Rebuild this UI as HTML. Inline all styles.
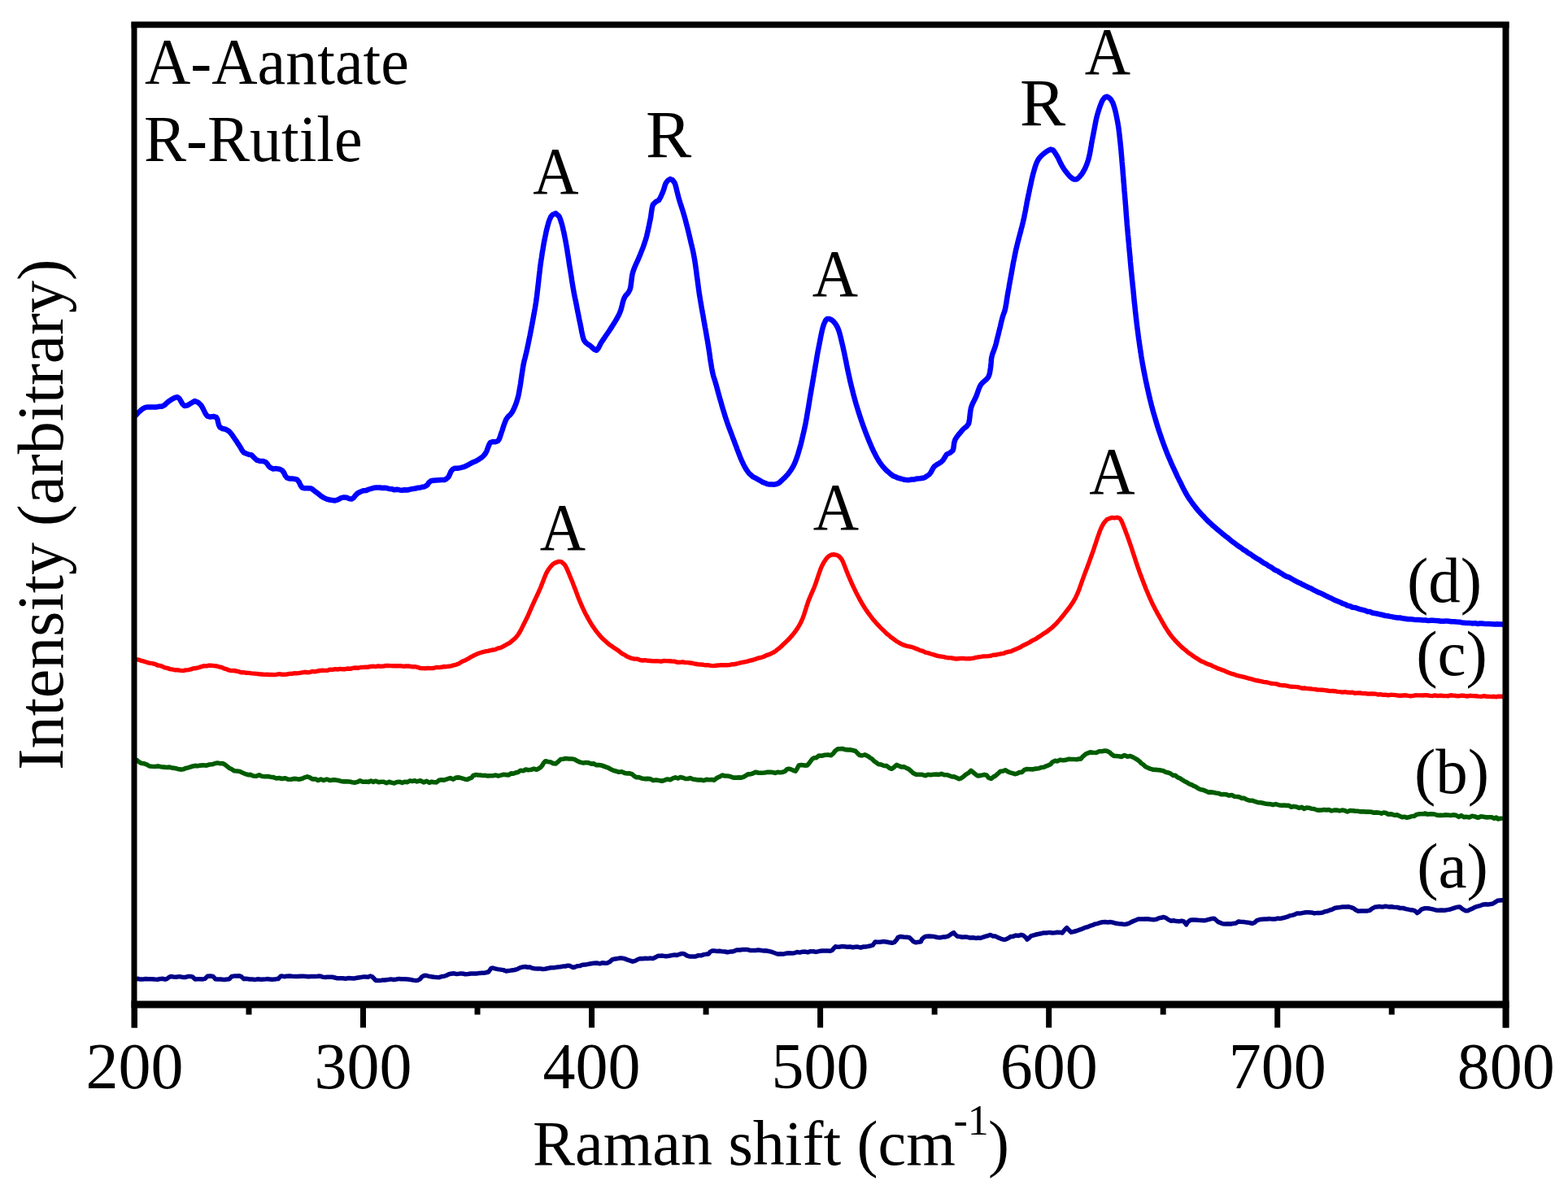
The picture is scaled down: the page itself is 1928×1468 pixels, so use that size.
<!DOCTYPE html>
<html><head><meta charset="utf-8"><title>Raman spectra</title>
<style>html,body{margin:0;padding:0;background:#fff;overflow:hidden}svg{display:block}</style>
</head><body>
<svg width="1928" height="1468" viewBox="0 0 1928 1468"><rect x="0" y="0" width="1928" height="1468" fill="#fff"/>
<polyline points="168.0,1203.7 169.9,1203.3 172.4,1204.1 175.4,1204.1 178.9,1203.5 182.5,1203.8 186.3,1203.8 190.1,1204.1 193.8,1204.2 197.3,1203.4 200.4,1203.3 203.0,1204.2 205.0,1203.6 208.0,1201.4 210.2,1200.5 213.2,1200.9 216.7,1201.2 220.5,1200.6 224.5,1201.4 228.3,1201.4 231.8,1200.4 234.8,1200.5 237.0,1201.2 240.0,1204.1 242.6,1203.8 246.0,1203.7 249.4,1203.9 252.0,1203.4 255.0,1200.3 258.5,1200.0 262.0,1200.5 265.0,1203.8 267.7,1204.0 271.5,1204.1 275.5,1204.4 279.3,1204.1 282.0,1203.7 285.0,1200.5 287.6,1200.1 291.0,1200.1 294.4,1199.8 297.0,1200.9 300.0,1203.7 301.9,1203.2 304.3,1203.5 307.1,1204.0 310.3,1204.1 313.7,1204.4 317.3,1203.8 321.0,1204.3 324.7,1204.1 328.3,1203.6 331.7,1203.9 334.9,1204.2 337.7,1204.1 340.1,1203.6 342.0,1203.6 345.0,1200.2 347.0,1200.1 349.4,1200.7 352.3,1200.2 355.5,1199.9 359.0,1200.3 362.6,1200.5 366.2,1200.5 369.8,1200.2 373.3,1200.3 376.5,1200.4 379.5,1200.8 382.0,1200.5 386.0,1200.4 389.0,1200.6 391.6,1200.1 394.0,1200.2 396.6,1201.1 400.0,1201.6 402.7,1201.3 405.5,1201.3 408.5,1201.3 411.7,1202.0 414.9,1202.8 418.2,1202.8 421.5,1202.8 424.8,1203.3 428.0,1202.6 431.4,1202.8 435.0,1203.1 438.7,1202.3 442.4,1201.7 446.1,1201.1 449.5,1201.1 452.7,1201.2 455.4,1200.0 457.6,1200.8 459.8,1203.0 462.2,1205.5 464.3,1205.6 466.9,1205.6 470.0,1205.1 473.3,1205.0 476.8,1204.6 480.4,1203.9 484.0,1204.5 487.4,1204.0 490.6,1203.4 493.4,1203.7 497.5,1203.8 501.4,1204.1 505.0,1204.5 508.2,1205.1 511.1,1205.5 513.6,1205.3 516.7,1203.6 518.5,1201.1 521.4,1199.5 523.9,1199.3 526.9,1200.1 530.2,1200.8 533.6,1201.3 536.9,1201.6 540.0,1201.7 543.2,1200.6 546.1,1200.3 548.9,1199.2 552.0,1197.7 555.6,1197.0 558.5,1196.8 561.7,1197.6 565.1,1197.1 568.6,1197.0 572.1,1197.7 575.6,1197.4 578.9,1197.0 582.3,1196.9 585.8,1197.1 589.3,1196.4 592.7,1196.2 595.9,1196.2 598.6,1195.5 600.7,1195.0 603.8,1190.5 605.9,1190.1 608.7,1190.9 611.9,1191.6 615.4,1192.1 618.9,1192.6 622.4,1194.0 625.6,1193.6 629.1,1192.9 632.5,1192.5 635.9,1191.6 639.2,1189.8 642.5,1188.9 645.8,1188.5 648.8,1189.2 651.5,1189.0 654.2,1190.2 657.1,1190.8 660.4,1191.1 664.5,1190.9 667.2,1191.6 670.3,1191.2 673.8,1190.5 677.5,1189.8 681.2,1189.8 685.0,1189.1 688.7,1188.8 692.1,1188.1 695.2,1188.1 697.9,1187.2 700.0,1187.3 704.7,1189.5 706.9,1189.0 709.7,1187.8 712.8,1187.6 716.2,1186.2 719.8,1186.1 723.3,1185.4 726.5,1184.7 730.1,1184.3 733.8,1183.9 737.5,1184.8 741.0,1183.7 744.1,1184.3 746.7,1184.0 750.3,1182.2 752.3,1180.1 754.5,1179.2 757.8,1178.7 761.5,1178.1 765.3,1178.1 768.4,1178.8 771.6,1180.1 774.9,1181.1 777.8,1182.2 780.9,1181.3 783.7,1179.8 787.1,1178.5 790.0,1178.8 793.3,1178.2 796.8,1178.4 800.1,1178.1 802.7,1178.5 805.3,1177.4 808.9,1175.3 811.5,1175.2 814.8,1175.1 818.6,1175.7 822.6,1175.2 826.4,1174.5 829.7,1174.1 832.3,1174.4 836.3,1173.0 838.5,1172.4 841.3,1172.8 844.5,1174.9 847.8,1176.0 851.3,1175.9 854.9,1176.1 858.7,1174.7 861.9,1174.8 865.3,1173.6 868.6,1173.1 871.2,1173.0 873.1,1170.4 875.8,1169.0 878.1,1168.9 881.1,1169.4 884.5,1169.3 888.0,1169.7 891.4,1170.0 894.5,1170.7 897.6,1170.1 900.2,1170.0 902.8,1169.3 905.9,1167.9 910.0,1168.1 912.6,1167.5 915.5,1167.4 918.7,1167.4 922.1,1168.4 925.6,1168.4 929.1,1168.5 932.5,1168.0 935.7,1168.5 938.6,1168.9 941.2,1168.7 945.2,1169.5 948.2,1170.1 950.7,1171.0 953.4,1172.0 956.7,1173.1 959.6,1172.8 962.9,1173.1 966.3,1172.3 969.8,1171.8 973.4,1172.0 976.8,1171.7 980.0,1170.5 983.5,1171.1 986.8,1170.2 990.0,1170.1 993.2,1170.8 996.5,1169.7 1000.0,1169.7 1003.3,1170.4 1007.0,1169.6 1010.8,1169.1 1014.5,1169.1 1018.0,1169.0 1021.0,1169.2 1023.3,1168.3 1025.0,1166.2 1027.2,1163.8 1029.3,1164.3 1031.9,1164.3 1034.9,1163.6 1038.2,1163.8 1041.7,1164.2 1045.2,1164.0 1048.6,1164.8 1051.7,1164.2 1054.5,1164.1 1058.3,1165.1 1061.9,1164.0 1065.3,1163.9 1068.4,1163.3 1071.0,1162.7 1073.1,1162.1 1076.2,1157.9 1078.6,1158.2 1082.0,1158.3 1085.8,1157.6 1089.8,1158.0 1093.7,1158.8 1097.1,1159.3 1099.6,1158.5 1102.5,1155.4 1104.2,1152.3 1107.3,1151.5 1111.2,1152.0 1115.2,1152.2 1118.3,1152.8 1120.9,1155.2 1122.9,1157.5 1125.9,1158.8 1129.3,1158.3 1132.3,1157.8 1133.6,1154.6 1136.9,1151.8 1139.1,1151.2 1142.0,1151.1 1145.4,1151.3 1149.0,1151.6 1152.6,1152.5 1156.1,1152.8 1159.2,1152.1 1161.8,1152.0 1165.7,1151.1 1168.5,1149.3 1170.7,1147.7 1172.7,1146.6 1174.0,1148.5 1177.4,1151.3 1179.6,1151.4 1182.4,1152.2 1185.6,1151.9 1189.1,1152.1 1192.7,1153.0 1196.4,1152.7 1199.8,1153.4 1202.8,1153.0 1205.4,1153.4 1209.4,1152.0 1212.2,1151.2 1214.6,1150.5 1217.8,1149.4 1220.7,1150.9 1224.0,1151.1 1227.5,1152.9 1231.0,1154.3 1234.0,1155.2 1236.5,1155.1 1239.8,1153.6 1242.7,1151.5 1245.4,1151.4 1248.8,1150.1 1252.4,1150.4 1255.7,1149.3 1258.3,1150.2 1261.3,1152.7 1263.0,1155.1 1264.8,1153.7 1267.6,1150.9 1270.0,1150.2 1272.9,1149.3 1276.3,1148.5 1280.1,1147.8 1283.1,1146.9 1286.7,1147.0 1290.4,1146.4 1294.1,1146.9 1297.4,1146.8 1300.0,1146.2 1304.0,1146.4 1306.2,1147.0 1309.0,1143.4 1311.7,1140.6 1313.9,1143.1 1317.1,1146.2 1320.0,1145.5 1323.7,1144.5 1327.5,1143.1 1331.1,1141.8 1334.2,1140.4 1337.1,1139.8 1340.1,1138.4 1343.6,1137.4 1346.3,1136.1 1349.3,1135.6 1352.4,1134.5 1355.6,1133.8 1358.9,1133.5 1362.2,1133.9 1365.5,1133.6 1369.0,1134.3 1372.4,1135.3 1375.9,1135.7 1379.3,1136.0 1382.5,1136.6 1385.5,1136.0 1388.4,1135.1 1391.1,1133.6 1393.9,1132.4 1396.7,1131.3 1399.6,1130.0 1402.7,1130.0 1405.9,1129.9 1409.2,1129.7 1412.5,1130.1 1415.5,1130.4 1418.3,1130.8 1421.9,1130.2 1425.1,1128.7 1428.0,1128.3 1430.7,1127.5 1433.8,1128.6 1436.5,1130.6 1440.0,1132.3 1442.9,1131.8 1446.4,1132.6 1450.0,1132.8 1453.2,1132.2 1455.6,1132.8 1458.7,1136.9 1460.0,1134.1 1463.4,1131.3 1466.0,1131.1 1469.4,1130.9 1473.2,1131.3 1477.1,1131.5 1480.7,1131.7 1483.6,1131.2 1487.6,1130.1 1490.3,1129.4 1492.9,1129.3 1495.3,1131.1 1497.6,1133.4 1500.7,1134.6 1503.4,1135.7 1506.7,1136.1 1510.1,1135.8 1513.5,1136.0 1516.3,1135.4 1519.7,1135.1 1522.4,1133.1 1525.6,1133.3 1528.9,1133.4 1532.6,1134.1 1536.3,1134.5 1539.6,1135.4 1542.8,1134.2 1545.6,1131.6 1549.0,1130.6 1551.7,1130.3 1554.8,1129.9 1558.0,1130.0 1561.3,1129.6 1564.5,1130.1 1567.7,1130.0 1570.9,1129.1 1574.1,1129.4 1577.1,1128.7 1580.0,1128.0 1583.0,1127.2 1585.7,1125.9 1588.4,1125.4 1591.6,1124.6 1594.8,1123.1 1598.3,1123.1 1602.0,1122.4 1605.6,1121.8 1609.0,1121.8 1612.7,1121.9 1616.1,1122.9 1619.6,1122.4 1623.6,1122.4 1626.2,1122.0 1629.1,1120.7 1632.1,1120.2 1635.1,1119.0 1638.1,1118.1 1641.1,1116.5 1643.9,1115.9 1647.7,1115.5 1651.5,1114.9 1655.1,1115.1 1658.4,1114.8 1661.3,1115.6 1664.6,1116.9 1667.0,1118.8 1670.0,1120.3 1673.4,1120.1 1677.5,1119.9 1681.4,1119.9 1684.6,1119.2 1687.0,1117.2 1690.4,1115.3 1692.9,1114.9 1696.1,1114.5 1699.7,1115.1 1703.6,1114.2 1707.3,1114.9 1710.7,1114.7 1713.6,1115.2 1718.2,1115.5 1721.5,1116.5 1725.2,1116.5 1728.9,1117.6 1733.0,1118.4 1736.8,1118.9 1739.7,1119.8 1742.6,1122.6 1744.8,1121.1 1747.6,1118.2 1751.4,1116.8 1754.4,1116.8 1757.9,1117.1 1761.6,1117.9 1765.4,1118.9 1768.8,1119.2 1772.7,1119.1 1776.4,1119.2 1779.9,1118.6 1783.3,1118.0 1786.5,1116.9 1789.5,1115.9 1792.4,1115.2 1794.9,1115.0 1798.2,1117.6 1802.2,1119.8 1804.5,1119.8 1807.3,1118.3 1810.4,1117.2 1813.5,1115.4 1816.7,1114.4 1819.6,1113.7 1823.1,1112.3 1826.6,1111.7 1830.0,1112.0 1833.1,1111.6 1835.6,1111.0 1839.1,1108.8 1841.4,1107.3 1847.2,1106.7" fill="none" stroke="#000088" stroke-width="5.5" stroke-linejoin="round" stroke-linecap="round"/>
<polyline points="168.3,934.6 170.3,936.4 173.2,938.2 176.7,938.7 180.7,940.1 183.7,942.0 187.0,942.3 190.6,942.5 194.3,941.9 197.9,942.8 201.5,943.1 205.0,943.5 208.4,943.1 211.8,944.1 215.3,944.5 218.7,945.4 222.2,946.1 225.2,945.8 228.1,944.6 231.1,943.9 234.1,943.0 237.1,942.0 240.0,941.4 243.0,941.8 246.6,941.1 250.2,940.7 253.9,941.2 257.4,940.0 260.7,939.8 263.7,938.8 267.5,938.1 270.7,938.7 273.6,938.5 276.2,939.8 279.2,942.1 281.7,944.2 284.5,945.5 287.8,947.7 291.4,948.0 294.9,948.5 298.0,950.0 301.0,951.3 305.2,952.7 308.1,952.4 311.4,954.0 314.9,954.3 318.7,952.9 322.4,954.5 326.0,954.7 329.5,954.6 332.9,955.2 336.3,955.6 339.8,957.0 343.2,956.5 346.7,957.5 350.3,956.7 354.0,958.1 357.8,958.2 361.3,957.4 364.6,957.6 367.5,958.3 371.7,957.2 374.7,955.8 377.8,954.8 380.9,955.9 384.0,957.9 388.2,957.8 391.1,959.5 394.4,958.1 398.0,959.4 401.7,958.0 405.4,959.4 409.0,958.9 412.5,958.9 415.9,959.5 419.3,960.4 422.8,960.9 426.2,960.9 429.7,961.0 433.0,961.7 436.2,962.3 439.5,961.4 442.8,959.9 446.4,961.3 450.5,961.0 453.2,961.4 456.1,960.1 459.1,961.4 462.2,960.2 465.4,961.7 468.7,961.2 471.9,961.3 475.2,962.8 478.4,961.3 481.6,962.2 484.8,962.9 488.0,961.5 491.3,961.2 494.5,962.4 497.8,961.2 501.0,961.6 504.1,959.9 507.1,960.4 510.0,959.8 512.7,960.9 516.9,959.7 520.9,961.9 524.6,960.4 527.9,962.3 530.9,961.1 533.4,961.7 536.7,961.9 540.0,959.3 542.7,958.8 546.0,959.1 549.7,957.9 553.6,956.6 557.3,958.1 560.7,956.1 564.4,955.9 568.0,956.9 571.5,957.9 574.6,958.5 577.3,957.1 580.0,956.1 581.8,953.5 585.6,952.5 587.8,953.0 590.5,953.0 593.4,953.5 596.7,953.4 600.0,953.9 603.4,953.8 606.7,953.6 609.8,953.1 612.6,954.0 616.0,953.1 619.3,952.3 622.5,952.6 625.5,952.9 628.4,950.9 631.0,951.2 633.4,950.3 637.3,949.2 640.0,947.3 643.7,947.7 646.5,946.0 649.7,946.7 653.2,946.3 656.6,945.3 659.8,946.2 662.4,944.9 665.1,943.1 666.9,940.7 668.6,937.9 670.7,935.7 673.7,936.5 677.1,937.0 680.4,938.8 683.2,938.9 686.0,936.8 689.4,933.5 692.2,933.3 695.8,932.5 699.6,933.0 703.2,933.0 706.0,933.4 708.8,935.0 712.2,936.7 714.5,937.4 717.3,938.1 720.4,937.5 723.8,937.9 727.1,939.1 730.2,938.9 733.0,940.6 736.4,940.5 739.5,941.0 742.3,942.0 745.0,943.0 747.5,943.8 751.0,945.8 754.1,947.2 757.8,948.2 760.8,949.3 764.4,948.7 768.1,950.4 771.5,950.9 774.4,950.9 777.5,952.0 779.6,954.0 782.7,955.8 785.5,955.6 788.8,956.9 792.4,957.6 796.0,957.4 799.3,957.6 803.0,959.4 806.6,958.9 810.2,959.4 813.9,960.2 817.2,959.2 820.6,958.0 824.1,958.7 827.4,956.9 830.5,955.8 833.7,957.0 836.6,955.6 839.5,956.2 842.9,957.5 845.7,957.5 848.7,956.6 852.0,958.0 855.3,958.4 858.5,959.0 861.6,958.7 865.2,959.6 868.7,958.4 872.1,958.7 875.3,958.6 878.2,959.2 881.6,956.3 884.4,955.2 888.5,953.1 891.2,954.0 894.6,954.0 898.2,954.8 901.9,956.1 905.6,956.1 908.8,955.9 911.4,956.1 914.8,955.0 916.6,953.8 919.7,951.8 922.4,951.9 925.5,951.0 929.0,949.2 932.7,950.3 936.4,950.3 940.0,950.0 943.1,949.4 946.4,949.2 949.8,949.5 953.1,950.4 956.3,949.3 959.1,949.8 961.5,949.5 965.2,948.4 967.5,945.9 969.8,945.2 972.7,945.9 975.6,947.3 978.1,948.1 980.0,945.2 982.2,941.0 985.4,940.5 989.2,941.1 992.6,940.9 994.9,938.3 996.7,935.9 998.8,933.1 1001.2,931.8 1003.8,931.6 1007.1,929.1 1010.5,929.2 1014.4,928.2 1018.3,928.0 1021.7,928.7 1024.6,926.4 1026.7,923.5 1030.0,920.9 1032.6,920.8 1035.8,920.5 1039.3,921.6 1042.8,921.9 1046.0,921.9 1048.6,922.5 1052.1,923.5 1054.4,926.1 1056.9,928.4 1060.1,928.9 1063.6,927.9 1067.3,929.8 1069.7,931.6 1072.3,933.1 1074.9,935.9 1077.4,937.5 1079.8,939.4 1083.5,940.1 1087.1,941.5 1090.1,941.6 1093.4,944.1 1096.3,945.3 1098.9,943.6 1102.6,940.4 1105.1,941.6 1108.2,942.9 1111.5,942.7 1114.6,944.4 1117.1,945.4 1120.2,948.0 1123.3,950.8 1126.3,952.1 1129.9,952.3 1133.8,952.3 1137.8,953.6 1141.0,952.2 1144.2,952.7 1147.5,952.2 1150.9,952.1 1154.4,952.4 1157.5,951.3 1160.9,952.6 1164.4,952.7 1167.7,953.8 1170.7,955.0 1173.1,954.9 1176.5,956.3 1179.3,957.7 1181.8,956.8 1184.8,954.7 1188.1,951.9 1191.2,950.1 1193.9,947.5 1197.1,950.0 1199.7,952.2 1202.2,953.9 1206.3,953.4 1210.5,952.4 1213.0,952.9 1215.6,956.3 1218.8,957.4 1221.3,955.3 1224.2,953.7 1227.2,951.0 1230.3,948.2 1233.3,948.0 1236.2,946.8 1239.1,948.7 1242.0,949.8 1244.9,950.7 1247.8,951.7 1250.7,951.1 1253.6,949.6 1256.5,949.4 1259.4,946.7 1262.3,945.5 1266.0,945.7 1269.7,945.9 1273.3,945.1 1276.8,944.8 1280.2,943.6 1283.4,943.3 1286.5,941.9 1289.3,940.9 1291.9,939.5 1293.9,937.0 1297.6,935.3 1300.2,935.9 1303.4,934.2 1306.9,934.8 1310.6,934.4 1314.2,933.3 1317.4,933.5 1320.0,933.5 1324.1,933.8 1326.7,933.0 1329.0,933.2 1330.9,930.6 1334.9,927.2 1337.3,926.2 1340.4,924.9 1344.0,925.3 1347.8,925.5 1351.6,923.7 1355.2,923.7 1358.4,923.1 1361.0,923.3 1364.7,925.2 1366.4,927.1 1369.7,929.4 1372.3,929.5 1375.4,929.7 1378.9,930.4 1382.6,928.5 1386.3,930.2 1389.8,929.5 1392.9,930.9 1395.7,932.4 1398.4,934.0 1401.0,935.9 1403.4,938.5 1405.8,940.0 1408.1,942.4 1410.4,943.5 1414.1,945.1 1417.5,946.2 1420.9,946.4 1424.9,946.8 1427.5,947.1 1430.4,947.8 1433.3,949.2 1436.4,949.9 1439.4,951.1 1442.4,953.4 1445.2,953.3 1448.2,955.9 1450.9,956.9 1453.5,958.7 1456.3,960.4 1459.2,961.8 1462.6,964.0 1465.1,964.7 1467.8,966.4 1470.6,967.4 1473.5,969.5 1476.5,970.8 1479.5,971.2 1482.6,972.6 1485.7,974.1 1488.8,973.9 1491.9,974.2 1495.1,975.0 1498.3,975.4 1501.5,976.8 1504.8,976.5 1508.0,976.8 1511.3,978.1 1514.6,977.5 1517.8,979.2 1520.9,979.5 1524.0,979.9 1527.0,981.4 1529.9,981.4 1533.0,983.2 1536.1,984.2 1539.5,984.2 1543.0,985.4 1546.9,986.7 1549.6,986.7 1552.5,987.2 1555.5,987.9 1558.7,988.5 1562.0,988.6 1565.3,989.5 1568.6,988.6 1572.0,989.7 1575.3,990.2 1578.6,990.0 1581.8,990.4 1584.8,990.3 1587.7,992.3 1590.4,991.4 1594.2,992.1 1597.6,993.4 1600.6,992.4 1603.5,994.4 1606.4,993.0 1609.3,993.2 1612.3,994.2 1615.7,994.5 1619.5,996.0 1622.2,996.1 1625.0,996.0 1627.9,995.5 1630.9,995.9 1634.0,995.5 1637.2,996.9 1640.4,996.1 1643.7,996.0 1646.9,996.9 1650.2,996.1 1653.5,996.6 1656.7,998.0 1660.0,996.5 1663.1,996.7 1666.3,997.1 1669.5,997.3 1672.8,997.9 1676.1,997.7 1679.5,998.1 1682.8,998.1 1686.1,998.3 1689.4,999.3 1692.6,998.9 1695.6,999.2 1698.6,1000.2 1701.4,999.0 1704.1,999.4 1706.6,1001.1 1711.0,1000.9 1714.8,1002.3 1718.2,1001.9 1721.2,1003.4 1724.1,1004.7 1726.9,1004.2 1729.9,1005.3 1733.2,1004.6 1736.0,1003.5 1738.8,1003.5 1741.8,1001.4 1745.5,1000.7 1750.2,1000.7 1752.6,1000.0 1755.1,1001.2 1757.8,1000.8 1760.7,1000.9 1763.7,1001.0 1766.8,1002.2 1770.0,1002.4 1773.3,1002.4 1776.6,1001.9 1780.0,1002.1 1783.5,1002.6 1786.9,1001.9 1790.4,1002.3 1793.8,1004.3 1796.7,1002.7 1799.9,1004.6 1803.2,1004.2 1806.6,1004.9 1810.1,1003.3 1813.7,1004.0 1817.3,1005.3 1820.9,1003.8 1824.4,1004.2 1827.8,1004.9 1831.1,1004.7 1834.2,1004.8 1837.1,1006.1 1839.8,1005.0 1842.2,1007.0 1844.3,1006.4 1846.0,1006.2" fill="none" stroke="#005c00" stroke-width="5.6" stroke-linejoin="round" stroke-linecap="round"/>
<polyline points="168.3,810.8 170.3,811.1 172.9,812.1 176.0,812.9 179.6,814.0 183.3,815.1 187.2,815.6 191.1,816.6 193.8,818.0 196.7,818.4 199.6,819.3 202.6,820.9 205.7,821.4 208.9,822.6 212.1,823.0 215.4,823.8 218.8,823.8 222.2,824.4 225.1,824.6 228.2,823.9 231.4,823.6 234.7,822.9 238.0,821.7 241.3,821.5 244.6,820.6 247.8,819.6 251.0,818.7 254.0,818.9 256.9,818.2 259.6,818.3 263.3,818.6 266.6,819.0 269.6,819.9 272.4,820.5 275.3,821.8 278.1,822.6 281.2,823.9 284.5,824.6 287.4,824.5 290.3,825.0 293.4,825.6 296.5,826.7 299.7,826.7 302.9,827.3 306.1,827.4 309.3,827.9 312.5,828.1 315.6,828.4 318.7,828.8 321.8,829.0 324.9,829.4 328.0,829.3 331.1,829.5 334.3,829.5 337.4,829.6 340.5,829.2 343.6,828.7 346.7,829.3 349.8,829.2 352.9,829.0 356.0,828.4 359.1,828.3 362.2,827.6 365.4,827.9 368.5,827.4 371.6,826.8 374.7,826.3 377.8,826.7 380.9,826.6 384.0,825.4 387.2,825.8 390.3,825.1 393.4,824.5 396.5,824.3 399.6,824.4 402.8,824.2 405.9,823.1 409.0,823.4 412.1,822.6 415.2,823.0 418.3,822.4 421.4,822.8 424.6,822.7 427.7,822.0 430.8,822.3 433.9,821.4 437.0,821.0 440.1,821.3 443.2,820.5 446.3,820.4 449.4,820.3 452.5,820.2 455.6,819.5 458.8,819.1 461.9,819.6 465.0,818.8 468.1,819.3 471.2,819.1 474.4,818.5 477.6,818.5 480.9,818.6 484.1,818.7 487.4,818.7 490.6,818.7 493.7,818.8 496.7,819.3 499.6,819.0 502.3,819.0 506.4,819.7 510.1,819.7 513.6,820.4 516.8,821.5 520.0,821.6 523.1,821.8 526.7,821.4 529.9,821.6 533.1,821.5 536.4,820.5 540.0,820.6 542.8,820.3 545.6,819.5 548.5,819.7 551.6,819.2 554.7,818.9 557.9,817.8 561.3,817.1 564.0,816.0 566.8,814.2 569.7,812.7 572.7,811.4 575.7,809.9 578.8,807.8 581.8,806.3 584.8,804.9 587.8,803.5 590.8,802.5 593.8,801.6 596.9,800.9 600.0,800.4 603.1,799.6 606.1,799.0 609.0,798.6 611.8,797.2 614.4,796.7 617.6,795.4 620.7,793.6 623.6,792.0 626.4,790.6 629.1,788.4 631.5,786.4 633.9,784.2 635.8,782.0 637.6,779.5 639.2,776.8 640.8,774.0 642.2,771.1 643.6,768.3 645.0,765.5 646.3,762.9 647.7,760.0 649.1,757.2 650.3,754.4 651.5,751.7 652.7,748.9 653.9,746.2 655.1,743.4 656.4,740.6 657.6,737.9 658.9,735.2 660.2,732.4 661.5,729.7 662.7,726.9 664.0,724.0 665.3,721.0 666.5,717.7 667.8,714.4 669.0,711.2 670.3,708.1 671.5,705.2 672.8,702.7 675.1,699.1 677.5,696.1 679.7,693.8 681.7,692.4 687.0,690.4 690.3,690.7 694.1,694.1 695.3,695.8 696.5,698.2 697.7,700.9 699.0,703.9 700.3,707.0 701.6,710.2 702.9,713.3 704.0,716.0 705.1,718.9 706.2,721.9 707.4,724.8 708.5,727.8 709.6,730.8 710.7,733.7 711.8,736.4 713.0,739.4 714.3,742.3 715.5,745.1 716.7,747.8 718.0,750.5 719.2,753.2 720.6,755.8 722.3,758.9 724.0,762.0 725.7,765.0 727.5,767.9 729.4,770.8 731.3,773.5 733.2,776.1 735.2,778.6 737.2,781.0 739.3,783.5 741.4,785.6 743.6,787.6 746.3,790.0 749.1,792.4 751.9,794.3 754.8,796.4 757.8,798.2 760.3,799.9 762.7,801.8 765.2,803.8 767.9,805.1 770.7,807.0 773.8,808.4 776.7,809.3 779.9,810.1 783.2,810.1 786.6,811.3 790.0,812.0 793.4,811.7 796.8,812.3 800.1,812.5 803.3,812.9 806.6,812.8 809.9,812.9 813.2,813.2 816.6,812.4 820.0,812.6 823.1,812.8 826.2,813.0 829.4,813.1 832.6,814.2 835.8,814.3 839.1,813.8 842.3,814.5 845.5,814.6 848.7,815.0 851.9,815.5 855.1,816.3 858.3,816.7 861.5,817.0 864.7,817.3 867.9,817.8 871.1,817.8 874.3,818.4 877.5,818.6 880.7,818.2 883.9,817.9 887.0,817.8 890.2,817.8 893.4,817.7 896.6,817.6 899.8,816.8 903.0,816.7 906.2,816.0 909.4,815.2 912.6,814.4 915.8,813.8 919.0,813.2 922.2,812.1 925.5,811.5 928.8,810.4 932.1,809.2 935.5,808.5 938.8,807.5 941.9,805.9 944.9,804.9 947.7,803.7 950.6,802.4 953.3,800.7 955.8,798.6 958.1,797.0 960.3,795.0 962.5,792.8 964.7,790.9 967.2,788.4 969.7,786.1 972.1,783.4 974.3,780.9 976.5,778.2 978.4,775.6 980.5,772.6 982.3,769.7 983.9,766.8 985.4,763.7 986.9,760.3 987.9,757.6 988.9,754.8 989.8,751.9 990.8,748.9 991.7,745.8 992.7,742.8 993.7,739.8 994.8,736.9 996.0,734.1 997.2,731.2 998.5,728.4 999.7,725.5 1001.0,722.5 1002.2,719.4 1003.3,716.5 1004.3,713.4 1005.4,710.2 1006.4,707.0 1007.5,703.8 1008.6,700.8 1009.6,698.0 1010.7,695.6 1012.9,691.5 1015.1,688.2 1017.2,685.5 1019.2,683.6 1022.6,682.0 1026.0,681.8 1028.7,682.4 1031.6,683.9 1034.5,687.1 1035.7,689.2 1037.0,691.9 1038.2,694.9 1039.4,698.1 1040.6,701.3 1041.9,704.5 1043.1,707.5 1044.5,710.7 1045.9,713.9 1047.2,717.0 1048.6,720.0 1050.1,723.1 1051.6,726.2 1052.9,728.9 1054.3,731.6 1055.7,734.3 1057.1,736.9 1058.6,739.6 1060.1,742.3 1061.8,745.0 1063.5,747.7 1065.3,750.4 1067.2,753.1 1069.2,755.8 1071.2,758.5 1073.2,761.2 1075.4,763.6 1077.4,765.9 1079.4,768.1 1081.5,770.4 1083.7,772.6 1085.9,774.7 1088.1,776.9 1090.2,779.0 1092.4,780.6 1095.3,783.2 1098.3,785.3 1101.3,787.7 1104.3,789.5 1107.0,791.1 1109.5,792.4 1112.9,793.6 1115.5,794.3 1120.4,795.4 1122.7,796.0 1125.3,797.1 1128.2,798.1 1131.3,799.6 1134.5,800.3 1137.9,802.1 1141.3,802.8 1144.6,804.0 1147.9,804.9 1151.1,806.0 1154.2,806.7 1157.2,807.1 1160.3,807.6 1163.3,808.3 1166.4,808.9 1169.5,808.9 1172.5,809.5 1175.6,810.0 1178.6,809.7 1181.7,809.5 1184.8,809.5 1187.8,809.9 1190.9,809.7 1194.0,809.7 1197.0,809.2 1200.1,808.3 1203.2,807.8 1206.3,807.4 1209.3,806.9 1212.4,806.9 1215.5,806.6 1218.5,806.2 1221.6,805.2 1224.7,805.2 1227.8,804.3 1230.8,803.8 1233.9,803.4 1237.0,802.1 1240.0,801.3 1243.1,800.9 1245.9,799.4 1248.8,798.2 1251.7,797.1 1254.7,795.8 1257.6,793.8 1260.5,792.5 1263.3,791.1 1266.1,789.6 1268.8,787.9 1271.3,786.6 1273.7,785.5 1276.8,783.3 1279.6,781.7 1282.3,779.7 1284.8,778.1 1287.3,776.6 1289.6,774.6 1291.9,773.0 1294.2,771.1 1296.5,768.7 1298.7,766.7 1300.8,764.3 1302.9,762.0 1304.9,759.6 1306.8,757.2 1308.7,754.9 1310.5,752.5 1312.5,750.0 1314.4,747.5 1316.2,745.1 1317.9,742.6 1319.6,740.0 1321.2,737.2 1322.8,734.2 1324.0,731.6 1325.2,728.9 1326.4,726.0 1327.5,723.0 1328.6,719.9 1329.7,716.8 1330.8,713.7 1331.9,710.6 1333.0,707.6 1334.1,704.6 1335.3,701.5 1336.5,698.4 1337.6,695.3 1338.8,692.2 1339.9,689.1 1341.0,686.0 1342.1,683.0 1343.2,680.0 1344.3,677.0 1345.3,673.8 1346.3,670.7 1347.4,667.6 1348.4,664.5 1349.3,661.6 1350.3,658.8 1351.2,656.3 1352.0,654.0 1353.7,649.8 1355.2,646.7 1356.6,644.1 1358.0,642.1 1361.0,638.8 1364.0,637.5 1367.2,636.4 1370.5,636.8 1373.8,636.2 1377.0,637.4 1378.7,639.9 1380.2,643.3 1382.0,648.0 1383.0,650.5 1384.0,653.2 1385.1,656.1 1386.3,659.3 1387.5,662.7 1388.7,666.2 1390.0,669.8 1390.9,672.5 1391.8,675.2 1392.7,678.1 1393.7,681.1 1394.7,684.1 1395.7,687.2 1396.7,690.3 1397.7,693.4 1398.8,696.6 1399.9,699.7 1400.9,702.6 1402.0,705.5 1403.1,708.5 1404.3,711.6 1405.4,714.6 1406.6,717.7 1407.8,720.7 1408.9,723.7 1410.1,726.5 1411.3,729.3 1412.4,732.0 1413.8,735.1 1415.1,738.0 1416.4,740.8 1417.6,743.4 1419.0,746.1 1420.3,748.7 1421.7,751.3 1423.2,754.1 1424.8,756.9 1426.3,759.6 1427.8,762.3 1429.4,765.1 1431.0,767.9 1432.7,770.8 1434.5,773.6 1436.3,776.4 1438.2,779.1 1440.1,781.8 1442.2,784.2 1444.2,786.6 1446.3,788.9 1448.4,791.0 1450.7,793.3 1453.0,795.6 1455.4,797.6 1457.7,799.3 1460.1,801.6 1462.5,803.4 1464.8,804.8 1467.1,806.6 1469.8,808.4 1472.4,809.9 1474.9,811.6 1477.5,813.2 1480.1,814.0 1482.8,815.6 1485.6,816.7 1488.7,817.6 1492.0,819.5 1494.4,820.3 1496.9,821.6 1499.5,822.5 1502.2,823.6 1504.9,824.4 1507.7,825.8 1510.6,827.0 1513.5,828.1 1516.6,828.8 1519.7,830.1 1522.8,830.9 1526.1,831.6 1529.4,832.4 1532.2,833.2 1535.0,834.0 1538.0,834.7 1541.0,835.6 1544.1,836.5 1547.2,837.0 1550.3,837.6 1553.5,838.4 1556.8,838.7 1560.0,839.5 1563.2,840.3 1566.5,840.6 1569.7,840.9 1572.9,842.1 1576.1,842.5 1579.2,842.7 1582.3,843.2 1585.4,843.8 1588.5,844.3 1591.6,844.4 1594.7,844.6 1597.8,845.2 1600.9,846.2 1604.0,846.0 1607.2,846.6 1610.3,846.7 1613.4,847.1 1616.5,847.4 1619.6,848.0 1622.7,848.1 1625.8,848.2 1628.9,848.6 1632.0,849.0 1635.1,849.6 1638.2,849.5 1641.3,849.7 1644.5,850.4 1647.6,850.6 1650.7,851.1 1653.8,850.7 1656.9,851.3 1660.0,851.5 1663.1,851.3 1666.2,852.4 1669.4,851.9 1672.5,852.0 1675.6,852.6 1678.7,852.5 1681.8,853.1 1684.9,853.0 1688.0,853.0 1691.2,853.1 1694.3,854.0 1697.4,853.7 1700.5,854.4 1703.6,854.2 1706.7,854.8 1709.8,854.3 1712.9,854.4 1716.0,854.6 1719.2,855.2 1722.3,855.2 1725.4,855.0 1728.5,854.8 1731.6,855.4 1734.6,855.8 1737.6,855.4 1740.5,854.8 1743.4,854.9 1746.3,854.9 1749.2,855.0 1752.2,854.8 1755.1,854.8 1758.2,855.4 1761.3,855.6 1764.5,854.9 1767.7,855.6 1771.1,855.1 1774.6,855.5 1778.3,855.6 1781.0,855.7 1783.9,854.8 1786.9,855.1 1790.1,855.5 1793.4,855.9 1796.8,855.1 1800.3,855.3 1803.8,856.0 1807.4,855.3 1810.9,855.6 1814.5,855.7 1818.0,856.1 1821.5,856.4 1824.9,855.7 1828.1,856.3 1831.3,856.4 1834.3,856.6 1837.1,856.3 1839.8,856.8 1842.2,856.2 1844.4,856.3 1846.3,856.2 1848.0,856.5" fill="none" stroke="#ff0000" stroke-width="5.4" stroke-linejoin="round" stroke-linecap="round"/>
<polyline points="166.2,511.3 167.8,509.7 169.9,507.4 172.5,505.1 175.5,502.6 178.7,500.9 181.8,500.4 185.3,500.6 189.1,500.5 192.8,500.4 196.2,499.8 198.9,499.7 202.3,498.1 204.3,496.1 206.7,494.0 209.4,492.1 212.4,490.3 215.5,488.6 218.3,488.2 220.6,490.0 222.5,493.4 224.5,496.9 226.9,499.0 229.9,498.6 233.2,496.8 236.5,494.8 239.4,493.1 243.5,494.7 247.1,498.1 248.6,500.4 250.1,503.3 251.6,506.4 253.1,509.3 254.9,511.6 258.5,512.6 262.5,512.0 265.8,512.8 267.3,515.4 268.1,518.9 269.0,522.5 270.5,525.4 273.6,527.0 277.4,527.7 281.4,530.1 283.1,531.8 285.0,534.2 286.9,536.9 288.8,539.7 290.7,542.4 292.3,545.0 293.8,547.1 296.2,551.0 297.9,554.1 300.0,556.5 303.0,557.8 306.4,559.0 309.4,559.4 312.4,562.7 315.6,565.6 319.1,566.8 323.0,566.9 326.5,568.0 328.6,570.3 330.2,572.8 332.7,575.1 335.8,576.4 339.7,576.1 343.6,576.7 346.7,578.1 349.1,581.1 350.7,584.8 352.9,587.5 355.7,588.4 359.1,588.4 362.6,589.0 365.4,589.7 367.8,592.8 369.4,596.5 371.6,599.6 374.7,600.3 378.4,600.3 382.5,600.4 384.8,602.0 387.4,604.2 390.1,606.2 392.8,608.2 395.5,610.4 398.0,611.8 401.7,613.6 405.3,614.5 408.7,615.1 412.0,615.5 416.0,614.2 419.6,612.2 423.0,611.4 426.3,611.7 429.4,613.1 432.3,613.6 434.8,612.0 437.0,609.1 440.0,606.2 443.1,604.7 446.7,603.3 450.4,602.9 454.0,601.5 457.0,600.6 459.8,599.8 462.9,599.4 467.2,599.4 469.6,600.0 472.3,599.8 475.3,600.1 478.4,600.9 481.6,601.2 484.9,602.3 488.2,601.8 491.4,602.4 494.5,602.7 497.6,602.2 500.9,602.5 504.3,601.6 507.6,601.0 510.9,600.6 514.0,599.7 516.9,599.5 519.5,598.7 521.7,598.6 525.5,596.2 527.1,593.6 530.0,591.2 532.7,590.7 536.0,590.4 539.5,590.2 543.1,590.0 546.4,590.1 549.0,588.7 551.5,586.4 553.1,583.0 554.5,579.6 556.5,577.2 559.3,575.7 562.6,575.7 566.2,575.1 570.0,574.2 572.8,573.0 576.0,571.4 579.3,569.5 582.5,567.9 585.5,566.7 588.0,565.2 591.8,562.8 594.6,560.3 597.0,557.4 598.6,554.2 600.0,550.3 601.4,546.7 603.0,544.0 605.9,543.1 609.2,543.3 612.0,542.3 613.8,539.8 615.1,536.3 616.5,532.0 617.6,529.0 618.7,525.4 619.9,521.8 621.2,518.3 622.5,515.4 624.9,512.0 627.6,509.7 630.0,506.4 631.3,503.8 632.6,500.9 633.9,497.9 635.0,494.7 636.0,491.5 636.9,488.4 637.6,485.4 638.2,482.3 638.8,478.9 639.5,475.0 640.0,472.2 640.4,469.1 640.9,465.8 641.4,462.4 641.9,459.0 642.4,455.7 642.9,452.5 643.4,449.5 644.1,446.0 644.8,442.9 645.6,440.0 646.3,437.1 647.1,433.8 648.0,430.0 648.5,427.4 649.1,424.7 649.7,421.8 650.3,418.8 650.9,415.8 651.6,412.6 652.2,409.5 652.8,406.3 653.4,403.1 654.0,400.0 654.6,397.0 655.1,394.0 655.7,391.0 656.2,388.0 656.8,385.0 657.3,382.0 657.9,378.8 658.4,375.5 659.0,372.0 659.5,368.3 659.9,365.5 660.3,362.5 660.6,359.4 661.0,356.2 661.4,352.9 661.8,349.5 662.2,346.2 662.5,342.8 662.9,339.4 663.3,336.1 663.7,332.9 664.0,329.8 664.4,326.8 664.8,324.0 665.3,320.3 665.9,316.7 666.4,313.2 666.9,309.8 667.5,306.6 668.0,303.5 668.5,300.5 669.0,297.6 669.6,294.8 670.1,292.1 670.9,288.4 671.6,284.8 672.4,281.5 673.2,278.4 674.0,275.5 674.7,273.0 675.4,270.8 677.5,266.2 679.5,263.9 683.4,262.3 687.5,266.0 688.6,268.6 689.7,271.9 690.9,275.7 692.0,280.0 692.6,282.7 693.3,285.5 693.9,288.5 694.5,291.7 695.2,295.0 695.8,298.3 696.4,301.8 696.9,304.6 697.4,307.5 697.8,310.5 698.3,313.5 698.8,316.6 699.3,319.7 699.7,322.8 700.2,325.9 700.7,329.0 701.2,332.1 701.7,335.2 702.2,338.3 702.7,341.4 703.1,344.5 703.6,347.6 704.1,350.6 704.6,353.5 705.1,356.3 705.7,359.7 706.3,362.9 706.9,366.0 707.6,369.0 708.2,372.0 708.8,375.0 709.4,378.1 710.0,381.3 710.6,384.4 711.3,387.7 711.9,390.8 712.5,394.0 713.2,397.0 713.8,400.0 714.5,403.4 715.1,406.9 715.8,410.2 716.5,413.3 717.3,416.2 718.2,418.5 720.5,421.5 723.1,423.4 725.8,425.1 728.4,427.5 731.0,429.8 733.4,430.8 735.5,428.5 737.3,425.0 738.9,421.8 740.5,419.4 742.7,416.1 744.1,414.0 745.8,411.5 747.7,408.7 749.7,405.8 751.6,402.9 753.4,400.1 755.0,397.5 756.6,394.9 758.1,392.3 759.6,389.6 761.0,387.0 762.2,384.2 763.3,381.3 764.2,378.2 765.0,375.0 765.7,371.9 766.6,369.1 767.5,366.5 769.2,363.6 771.2,361.5 773.0,359.1 774.6,355.9 775.3,353.4 775.7,350.6 776.1,347.5 776.5,344.3 776.9,341.0 777.4,337.7 778.2,334.6 779.2,331.6 780.4,328.5 781.7,325.4 783.1,322.4 784.5,319.3 785.8,316.3 787.0,313.4 788.3,310.1 789.6,306.9 790.8,303.8 791.9,300.6 793.0,297.3 794.1,293.9 795.0,290.8 795.8,287.5 796.6,284.1 797.3,280.6 798.1,277.2 798.7,273.9 799.4,270.8 800.1,267.2 800.6,263.5 801.1,260.0 801.6,256.7 802.2,253.8 803.0,251.4 806.4,248.2 810.0,246.2 812.0,242.9 813.7,239.1 815.3,235.4 816.6,231.6 817.6,227.9 818.9,224.8 821.4,221.7 824.2,220.1 826.9,221.3 829.5,224.8 830.4,227.1 831.2,230.1 832.0,233.4 832.9,237.0 833.8,240.7 834.8,244.3 835.6,247.0 836.4,249.7 837.3,252.4 838.2,255.2 839.2,258.1 840.1,261.1 841.0,264.1 841.9,267.3 842.7,270.2 843.5,273.3 844.3,276.5 845.2,279.7 846.0,283.0 846.8,286.2 847.5,289.4 848.3,292.6 849.0,295.6 849.7,298.8 850.5,301.7 851.1,304.5 851.8,307.3 852.4,310.2 853.0,313.3 853.6,316.6 854.3,320.4 854.7,323.0 855.1,325.7 855.5,328.6 855.9,331.6 856.3,334.7 856.7,337.9 857.1,341.1 857.6,344.3 858.0,347.5 858.4,350.6 858.8,353.6 859.2,356.6 859.6,359.4 860.1,362.9 860.7,366.3 861.2,369.5 861.8,372.8 862.3,375.9 862.8,379.0 863.4,382.1 863.9,385.1 864.5,388.2 865.0,391.3 865.5,394.4 866.1,397.4 866.6,400.4 867.1,403.3 867.7,406.2 868.2,409.2 868.7,412.2 869.2,415.2 869.8,418.3 870.3,421.4 870.8,424.4 871.3,427.5 871.8,430.8 872.3,434.1 872.8,437.4 873.2,440.7 873.7,443.9 874.2,447.0 874.7,449.9 875.1,452.6 875.6,455.0 876.4,459.0 877.1,461.8 877.8,464.2 878.8,467.1 880.1,471.7 880.8,474.0 881.5,476.7 882.3,479.5 883.1,482.6 884.0,485.8 884.9,489.1 885.9,492.5 886.9,495.9 887.8,499.3 888.8,502.6 889.8,505.8 890.7,508.8 891.6,511.7 892.6,514.9 893.7,518.0 894.7,521.0 895.7,523.9 896.8,526.7 897.8,529.5 898.9,532.2 899.9,535.0 900.9,537.7 902.0,540.4 903.0,543.1 904.1,546.1 905.3,549.2 906.4,552.3 907.6,555.4 908.8,558.5 909.9,561.4 911.1,564.3 912.2,566.9 913.4,569.4 914.5,571.7 916.3,575.0 917.9,577.7 919.5,580.0 921.3,582.2 923.3,583.9 925.9,586.3 928.3,587.4 931.0,588.9 934.0,590.6 937.2,592.6 940.3,593.8 943.4,595.1 946.3,595.6 948.8,595.6 952.2,595.7 955.1,595.0 957.8,593.8 960.4,591.3 963.1,588.8 964.9,587.3 966.7,585.2 968.6,583.3 970.4,580.9 972.2,578.4 974.0,575.6 975.8,572.4 977.4,568.9 978.4,566.5 979.3,563.9 980.3,561.2 981.2,558.3 982.1,555.3 983.0,552.2 983.9,549.0 984.8,545.8 985.6,542.4 986.4,539.0 987.2,535.6 988.0,532.2 988.8,528.8 989.4,526.0 990.0,523.2 990.6,520.3 991.1,517.3 991.7,514.4 992.2,511.4 992.7,508.3 993.2,505.3 993.8,502.2 994.3,499.1 994.8,495.9 995.3,492.8 995.8,489.7 996.3,486.5 996.9,483.4 997.4,480.2 997.9,477.2 998.5,474.1 999.0,470.9 999.6,467.7 1000.1,464.4 1000.7,461.1 1001.2,457.8 1001.8,454.5 1002.4,451.2 1002.9,448.0 1003.5,444.8 1004.0,441.7 1004.5,438.7 1005.0,435.8 1005.5,433.0 1006.0,430.4 1006.5,427.9 1007.3,423.9 1008.0,420.2 1008.7,416.6 1009.3,413.4 1010.0,410.3 1010.6,407.4 1011.2,404.8 1011.8,402.5 1012.5,400.3 1013.1,398.4 1015.2,393.9 1017.2,391.9 1019.6,392.1 1021.9,392.8 1024.5,394.8 1027.1,397.9 1029.4,401.7 1030.5,404.1 1031.4,406.6 1032.3,409.4 1033.1,412.5 1034.0,416.0 1034.9,420.0 1036.0,424.6 1036.6,427.0 1037.1,429.6 1037.8,432.5 1038.4,435.4 1039.0,438.5 1039.7,441.7 1040.4,445.0 1041.0,448.3 1041.7,451.7 1042.4,455.0 1043.1,458.3 1043.8,461.5 1044.5,464.6 1045.1,467.6 1045.8,470.4 1046.6,473.7 1047.4,477.0 1048.2,480.1 1048.9,483.1 1049.7,486.1 1050.5,489.0 1051.3,491.9 1052.1,494.8 1052.9,497.6 1053.8,500.5 1054.7,503.4 1055.6,506.4 1056.6,509.4 1057.6,512.5 1058.6,515.6 1059.7,518.8 1060.8,521.9 1061.9,525.0 1063.1,528.1 1064.2,531.1 1065.3,534.1 1066.5,537.0 1067.6,539.7 1068.7,542.4 1070.1,545.8 1071.5,549.1 1072.9,552.2 1074.3,555.2 1075.8,558.1 1077.2,560.9 1078.7,563.5 1080.2,566.1 1081.8,568.5 1083.9,571.5 1086.1,574.2 1088.4,576.8 1090.7,579.1 1093.1,581.1 1095.6,583.2 1098.1,585.1 1101.2,586.3 1104.3,587.7 1107.6,588.5 1110.9,589.5 1114.3,590.1 1117.8,590.2 1121.0,589.5 1124.3,589.4 1127.8,588.5 1131.3,588.3 1134.5,587.8 1137.5,586.8 1140.0,585.1 1142.6,583.4 1144.5,580.9 1145.9,578.2 1147.3,575.6 1149.0,573.3 1151.7,571.4 1154.5,569.7 1157.3,567.9 1159.5,565.9 1161.9,562.0 1164.0,558.6 1167.8,556.9 1171.5,553.9 1172.4,551.2 1172.8,547.8 1173.3,544.0 1174.5,540.4 1176.2,537.6 1178.4,534.7 1180.8,531.9 1183.1,529.2 1185.0,527.0 1188.5,524.4 1191.0,521.0 1191.6,518.4 1192.1,515.2 1192.5,511.7 1192.9,508.0 1193.4,504.5 1194.0,501.4 1195.3,497.7 1196.8,494.4 1198.4,491.3 1200.0,488.0 1201.2,485.0 1202.3,481.8 1203.4,478.6 1204.6,475.6 1206.0,473.0 1208.2,470.4 1210.7,468.3 1213.1,466.3 1215.0,464.0 1216.2,461.2 1217.0,458.3 1217.5,455.2 1218.0,452.0 1218.4,448.7 1218.7,445.3 1218.9,441.9 1219.5,438.5 1220.4,435.2 1221.6,432.0 1222.8,428.7 1224.0,425.0 1224.8,422.3 1225.5,419.3 1226.2,416.3 1227.0,413.2 1227.8,410.1 1228.5,407.0 1229.3,403.9 1230.1,400.7 1230.8,397.4 1231.6,394.3 1232.3,391.5 1233.0,389.0 1234.1,385.8 1235.0,383.5 1236.0,380.0 1236.4,377.9 1236.8,375.7 1237.2,373.4 1237.6,370.7 1238.1,367.5 1238.7,363.8 1239.5,359.2 1239.9,356.9 1240.4,354.3 1240.8,351.6 1241.4,348.7 1241.9,345.6 1242.5,342.4 1243.1,339.1 1243.7,335.8 1244.3,332.4 1244.9,329.0 1245.5,325.7 1246.1,322.3 1246.8,319.1 1247.4,316.0 1248.0,313.0 1248.6,310.1 1249.3,306.7 1250.1,303.4 1250.9,300.2 1251.7,297.0 1252.5,293.9 1253.3,290.8 1254.1,287.8 1254.9,284.9 1255.6,281.9 1256.4,279.1 1257.1,276.3 1257.8,273.5 1258.4,270.8 1259.2,267.4 1259.8,264.1 1260.5,260.9 1261.1,257.8 1261.6,254.8 1262.2,251.8 1262.7,248.9 1263.3,246.0 1263.9,243.0 1264.5,240.0 1265.2,236.9 1265.8,233.8 1266.5,230.6 1267.2,227.4 1267.9,224.2 1268.5,221.2 1269.2,218.2 1269.9,215.4 1270.6,212.7 1271.3,210.3 1272.5,206.1 1273.7,202.5 1274.9,199.4 1276.3,196.7 1278.1,194.1 1280.5,191.4 1283.4,188.9 1286.5,186.5 1289.4,184.7 1291.8,183.6 1294.5,184.3 1296.4,186.4 1298.6,189.9 1300.0,192.2 1301.5,195.1 1303.0,198.3 1304.6,201.6 1306.3,204.8 1308.1,207.6 1310.4,210.8 1313.0,214.1 1315.5,216.9 1318.1,219.1 1320.4,220.5 1323.8,220.6 1326.9,217.9 1329.9,214.4 1331.4,212.2 1332.8,209.7 1334.3,206.9 1335.6,203.7 1336.9,200.3 1338.1,196.7 1338.8,194.1 1339.5,191.3 1340.1,188.3 1340.7,185.2 1341.2,182.1 1341.8,178.8 1342.3,175.6 1342.9,172.5 1343.5,169.4 1344.1,166.3 1344.7,163.2 1345.3,160.0 1345.9,156.9 1346.5,153.7 1347.1,150.7 1347.7,147.7 1348.3,144.9 1349.0,142.2 1350.1,138.4 1351.2,134.7 1352.4,131.2 1353.6,128.1 1354.7,125.3 1355.8,123.1 1358.6,119.5 1361.3,118.7 1363.5,120.0 1365.8,122.1 1368.0,125.8 1368.9,127.9 1369.7,130.4 1370.5,133.1 1371.3,136.1 1372.1,139.4 1372.8,142.8 1373.5,146.3 1374.0,148.8 1374.4,151.1 1374.8,153.5 1375.2,156.0 1375.6,158.5 1375.9,161.3 1376.3,164.4 1376.7,167.9 1377.1,171.8 1377.6,176.2 1377.8,178.5 1378.1,181.0 1378.3,183.7 1378.6,186.5 1378.8,189.4 1379.1,192.5 1379.4,195.6 1379.6,198.8 1379.9,202.1 1380.2,205.4 1380.5,208.8 1380.7,212.1 1381.0,215.5 1381.3,218.8 1381.5,222.1 1381.8,225.3 1382.1,228.5 1382.3,231.5 1382.5,234.5 1382.8,237.3 1383.0,240.0 1383.3,243.5 1383.6,246.9 1383.8,250.1 1384.1,253.1 1384.3,256.0 1384.5,258.9 1384.7,261.6 1384.9,264.4 1385.1,267.2 1385.4,270.1 1385.6,273.0 1385.8,276.0 1386.1,279.1 1386.4,282.5 1386.7,286.0 1386.9,288.6 1387.2,291.4 1387.4,294.2 1387.7,297.1 1388.0,300.0 1388.2,303.0 1388.5,306.1 1388.8,309.2 1389.1,312.3 1389.4,315.4 1389.7,318.6 1389.9,321.8 1390.2,324.9 1390.5,328.1 1390.8,331.2 1391.1,334.3 1391.4,337.4 1391.7,340.4 1392.0,343.4 1392.3,346.3 1392.6,349.2 1392.9,352.5 1393.3,355.7 1393.6,358.9 1393.9,362.1 1394.2,365.3 1394.5,368.4 1394.8,371.5 1395.2,374.6 1395.5,377.6 1395.8,380.7 1396.1,383.7 1396.5,386.7 1396.8,389.7 1397.1,392.7 1397.5,395.7 1397.8,398.7 1398.2,401.6 1398.6,404.6 1399.0,407.7 1399.4,410.8 1399.8,413.9 1400.2,417.0 1400.7,420.0 1401.1,423.0 1401.5,426.1 1402.0,429.1 1402.4,432.1 1402.9,435.0 1403.3,438.0 1403.8,441.0 1404.3,444.0 1404.8,447.0 1405.4,450.0 1405.9,453.0 1406.5,456.0 1407.1,459.0 1407.7,462.1 1408.3,465.1 1408.9,468.2 1409.6,471.2 1410.2,474.3 1410.9,477.3 1411.6,480.4 1412.3,483.4 1413.0,486.5 1413.7,489.5 1414.4,492.5 1415.2,495.5 1415.9,498.5 1416.7,501.4 1417.5,504.4 1418.3,507.3 1419.2,510.4 1420.1,513.4 1421.0,516.5 1421.9,519.5 1422.8,522.6 1423.8,525.6 1424.7,528.6 1425.7,531.5 1426.7,534.5 1427.7,537.4 1428.7,540.4 1429.8,543.3 1430.8,546.2 1431.9,549.1 1433.0,551.9 1434.1,554.8 1435.3,557.9 1436.6,561.0 1437.9,564.1 1439.3,567.3 1440.6,570.4 1442.0,573.5 1443.5,576.6 1444.9,579.7 1446.3,582.7 1447.6,585.6 1449.0,588.4 1450.3,591.1 1451.6,593.6 1452.8,596.0 1453.9,598.3 1455.8,602.1 1457.6,605.3 1459.1,608.1 1460.6,610.6 1462.1,613.0 1463.7,615.2 1465.3,617.5 1467.1,620.0 1469.1,622.6 1471.1,625.1 1473.2,627.8 1475.4,630.1 1477.7,632.7 1480.0,635.1 1482.3,637.6 1484.6,640.0 1486.9,642.1 1489.3,644.2 1491.7,646.6 1494.1,648.6 1496.6,650.7 1499.1,652.8 1501.8,655.0 1504.5,657.3 1506.8,659.1 1509.2,660.8 1511.6,662.9 1514.1,665.0 1516.6,666.9 1519.2,668.7 1521.8,670.8 1524.3,672.4 1526.9,674.2 1529.4,676.2 1532.2,677.7 1534.9,679.9 1537.7,681.4 1540.5,683.5 1543.2,685.2 1546.0,687.1 1548.8,688.5 1551.5,690.6 1554.3,692.4 1557.1,693.7 1559.8,695.8 1562.6,697.2 1565.4,699.2 1568.1,701.0 1570.9,702.1 1573.7,703.9 1576.4,705.6 1579.2,707.4 1582.0,708.9 1584.7,709.7 1587.5,711.2 1590.2,712.8 1593.0,714.4 1595.7,715.7 1598.5,716.9 1601.2,718.5 1604.0,719.8 1606.8,721.2 1609.5,722.5 1612.3,723.6 1615.1,725.3 1617.9,726.7 1620.7,728.2 1623.5,729.1 1626.2,730.4 1629.0,731.9 1631.8,733.2 1634.5,734.6 1637.3,735.7 1640.0,737.3 1642.8,738.5 1645.5,739.6 1648.3,740.7 1651.0,742.2 1653.8,742.9 1656.9,744.6 1660.0,745.2 1663.1,746.7 1666.2,747.0 1669.4,748.1 1672.5,749.2 1675.6,749.9 1678.7,750.7 1681.7,751.9 1684.6,752.1 1687.5,753.5 1690.4,754.0 1693.3,754.5 1696.5,755.3 1699.9,756.0 1703.6,757.0 1706.3,757.3 1709.1,757.9 1712.1,758.4 1715.1,759.1 1718.3,759.4 1721.5,759.5 1724.8,760.3 1728.1,760.7 1731.4,761.3 1734.6,761.2 1737.8,761.6 1741.0,762.1 1744.1,762.0 1747.1,762.2 1750.2,762.6 1753.2,762.5 1756.2,763.1 1759.2,762.7 1762.3,762.7 1765.4,763.1 1768.5,763.2 1771.7,763.7 1775.0,763.8 1778.3,763.5 1781.3,763.7 1784.4,764.2 1787.6,764.3 1790.9,764.6 1794.2,764.7 1797.6,765.4 1801.0,765.7 1804.3,765.9 1807.6,766.1 1810.8,766.5 1813.9,766.1 1816.8,767.0 1819.6,766.5 1822.2,766.5 1826.5,767.1 1830.5,767.0 1834.3,767.2 1837.8,767.6 1841.0,767.2 1843.8,767.5 1846.1,767.5 1848.0,767.7" fill="none" stroke="#0000ff" stroke-width="6.5" stroke-linejoin="round" stroke-linecap="round"/>
<line x1="161.5" y1="30.4" x2="1855.5" y2="30.4" stroke="#000" stroke-width="7.6"/>
<line x1="165" y1="27" x2="165" y2="1263.5" stroke="#000" stroke-width="7"/>
<line x1="1851.5" y1="27" x2="1851.5" y2="1263.5" stroke="#000" stroke-width="8"/>
<line x1="161.5" y1="1235" x2="1855.5" y2="1235" stroke="#000" stroke-width="9"/>
<line x1="165.45" y1="1235" x2="165.45" y2="1263.5" stroke="#000" stroke-width="7"/>
<line x1="305.98" y1="1235" x2="305.98" y2="1247.5" stroke="#000" stroke-width="7"/>
<line x1="446.50" y1="1235" x2="446.50" y2="1263.5" stroke="#000" stroke-width="7"/>
<line x1="587.03" y1="1235" x2="587.03" y2="1247.5" stroke="#000" stroke-width="7"/>
<line x1="727.55" y1="1235" x2="727.55" y2="1263.5" stroke="#000" stroke-width="7"/>
<line x1="868.08" y1="1235" x2="868.08" y2="1247.5" stroke="#000" stroke-width="7"/>
<line x1="1008.60" y1="1235" x2="1008.60" y2="1263.5" stroke="#000" stroke-width="7"/>
<line x1="1149.12" y1="1235" x2="1149.12" y2="1247.5" stroke="#000" stroke-width="7"/>
<line x1="1289.65" y1="1235" x2="1289.65" y2="1263.5" stroke="#000" stroke-width="7"/>
<line x1="1430.18" y1="1235" x2="1430.18" y2="1247.5" stroke="#000" stroke-width="7"/>
<line x1="1570.70" y1="1235" x2="1570.70" y2="1263.5" stroke="#000" stroke-width="7"/>
<line x1="1711.23" y1="1235" x2="1711.23" y2="1247.5" stroke="#000" stroke-width="7"/>
<line x1="1851.75" y1="1235" x2="1851.75" y2="1263.5" stroke="#000" stroke-width="7"/>
<text x="165.45" y="1338" font-size="80" text-anchor="middle" font-family="Liberation Serif, Times New Roman, serif">200</text>
<text x="446.50" y="1338" font-size="80" text-anchor="middle" font-family="Liberation Serif, Times New Roman, serif">300</text>
<text x="727.55" y="1338" font-size="80" text-anchor="middle" font-family="Liberation Serif, Times New Roman, serif">400</text>
<text x="1008.60" y="1338" font-size="80" text-anchor="middle" font-family="Liberation Serif, Times New Roman, serif">500</text>
<text x="1289.65" y="1338" font-size="80" text-anchor="middle" font-family="Liberation Serif, Times New Roman, serif">600</text>
<text x="1570.70" y="1338" font-size="80" text-anchor="middle" font-family="Liberation Serif, Times New Roman, serif">700</text>
<text x="1851.75" y="1338" font-size="80" text-anchor="middle" font-family="Liberation Serif, Times New Roman, serif">800</text>
<text x="655" y="1432" font-size="78" font-family="Liberation Serif, Times New Roman, serif">Raman shift (cm<tspan x="1172.4" font-size="52" dy="-37">-1</tspan><tspan x="1215" dy="37">)</tspan></text>
<text transform="translate(77,947) rotate(-90)" x="0" y="0" font-size="80" font-family="Liberation Serif, Times New Roman, serif">Intensity (arbitrary)</text>
<text transform="translate(178,102.5) scale(1,1.04)" font-size="78" font-family="Liberation Serif, Times New Roman, serif">A-Aantate</text>
<text transform="translate(177,197.5) scale(1,1.04)" font-size="78" font-family="Liberation Serif, Times New Roman, serif">R-Rutile</text>
<text transform="translate(683.5,238) scale(1.0,1.07)" font-size="78" text-anchor="middle" font-family="Liberation Serif, Times New Roman, serif">A</text>
<text transform="translate(822,193) scale(1.08,1.07)" font-size="78" text-anchor="middle" font-family="Liberation Serif, Times New Roman, serif">R</text>
<text transform="translate(1027,364) scale(1.0,1.07)" font-size="78" text-anchor="middle" font-family="Liberation Serif, Times New Roman, serif">A</text>
<text transform="translate(1282,153.8) scale(1.08,1.07)" font-size="78" text-anchor="middle" font-family="Liberation Serif, Times New Roman, serif">R</text>
<text transform="translate(1362,91) scale(1.0,1.07)" font-size="78" text-anchor="middle" font-family="Liberation Serif, Times New Roman, serif">A</text>
<text transform="translate(692,676) scale(1.0,1.07)" font-size="78" text-anchor="middle" font-family="Liberation Serif, Times New Roman, serif">A</text>
<text transform="translate(1028,651.3) scale(1.0,1.07)" font-size="78" text-anchor="middle" font-family="Liberation Serif, Times New Roman, serif">A</text>
<text transform="translate(1367.5,607.4) scale(1.0,1.07)" font-size="78" text-anchor="middle" font-family="Liberation Serif, Times New Roman, serif">A</text>
<text x="1776" y="740" font-size="79" text-anchor="middle" font-family="Liberation Serif, Times New Roman, serif">(d)</text>
<text x="1785" y="830" font-size="79" text-anchor="middle" font-family="Liberation Serif, Times New Roman, serif">(c)</text>
<text x="1785" y="975" font-size="79" text-anchor="middle" font-family="Liberation Serif, Times New Roman, serif">(b)</text>
<text x="1786" y="1091.4" font-size="79" text-anchor="middle" font-family="Liberation Serif, Times New Roman, serif">(a)</text></svg>
</body></html>
